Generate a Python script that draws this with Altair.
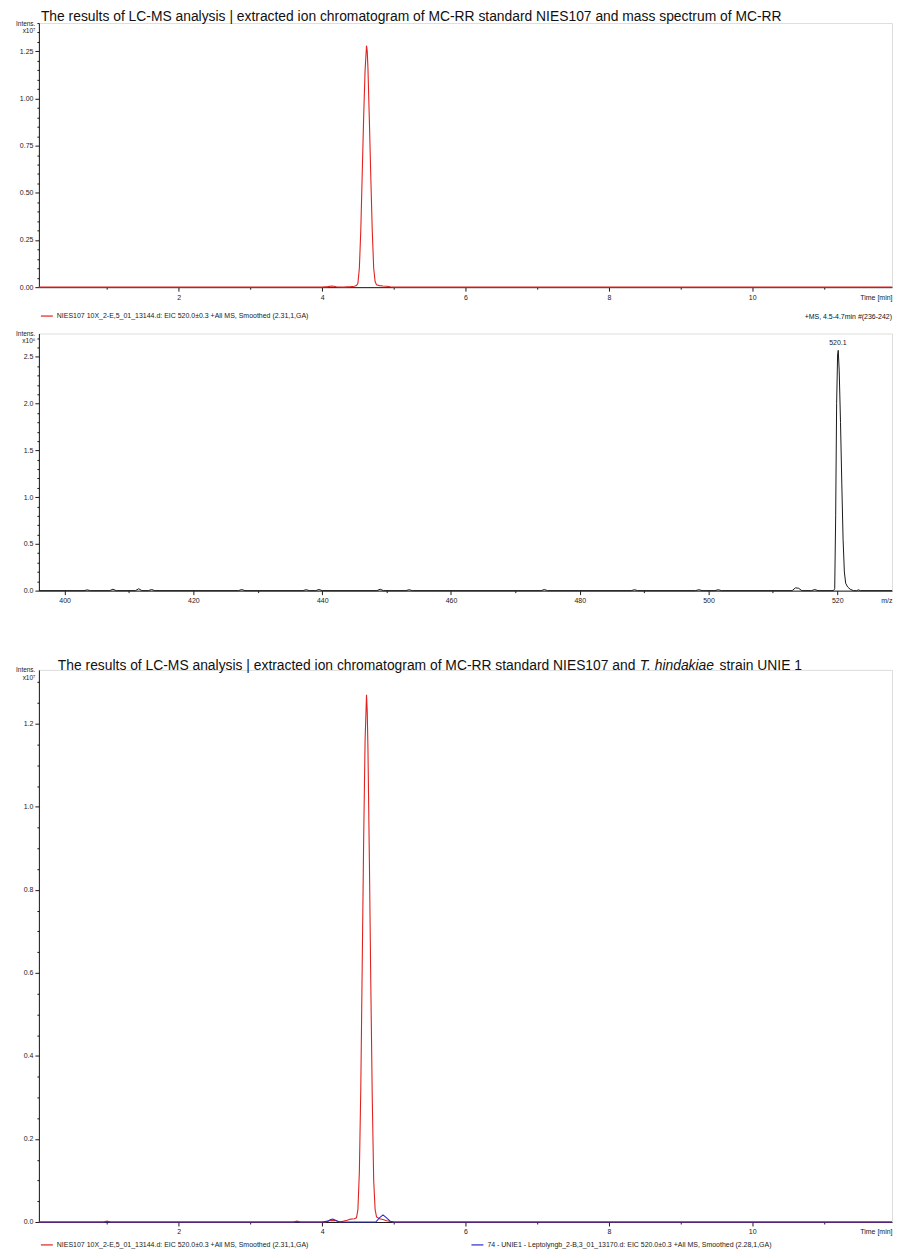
import json
import altair as alt
import pandas as pd

FONT = "Liberation Sans"
INK = "#1a1a1a"
RED = "#e0231f"
BLUE = "#2a2ad0"

TITLE_TOP = "The results of LC-MS analysis | extracted ion chromatogram of MC-RR standard NIES107 and mass spectrum of MC-RR"
TITLE_BOTTOM_A = "The results of LC-MS analysis | extracted ion chromatogram of MC-RR standard NIES107 and"
TITLE_BOTTOM_B = "T. hindakiae"
TITLE_BOTTOM_C = "strain UNIE 1"
SERIES_STD = "NIES107 10X_2-E,5_01_13144.d: EIC 520.0±0.3 +All MS, Smoothed (2.31,1,GA)"
SERIES_UNIE = "74 - UNIE1 - Leptolyngb_2-B,3_01_13170.d: EIC 520.0±0.3 +All MS, Smoothed (2.28,1,GA)"
MS_LABEL = "+MS, 4.5-4.7min #(236-242)"
PEAK_LABEL = "520.1"

# ---- panel 1: EIC of standard (intensity x1e7) ----
T1 = [0.05, 1.00, 2.00, 3.00, 4.00, 4.08, 4.14, 4.20, 4.30, 4.40, 4.45, 4.48, 4.50, 4.52,
      4.54, 4.56, 4.58, 4.60, 4.62, 4.63, 4.64, 4.66, 4.68, 4.70, 4.72, 4.74, 4.76, 4.80,
      4.85, 4.90, 4.95, 5.00, 6.00, 8.00, 10.00, 11.95]
I1 = [0, 0, 0, 0, 0, 0.003, 0.006, 0.002, 0, 0.003, 0.005, 0.008, 0.02, 0.10,
      0.30, 0.60, 0.90, 1.15, 1.28, 1.25, 1.16, 0.88, 0.58, 0.30, 0.10, 0.03, 0.012, 0.008,
      0.006, 0.005, 0.002, 0, 0, 0, 0, 0]

# ---- panel 2: mass spectrum (intensity x1e6) ----
MZ = [396, 403, 403.5, 404, 407, 407.5, 408, 411, 411.5, 412, 413, 413.5, 414, 427, 427.5,
      428, 437, 437.5, 438, 439, 439.5, 440, 448.5, 449, 449.5, 453, 453.5, 454, 474,
      474.5, 475, 488, 488.5, 489, 498, 498.5, 499, 501, 501.5, 502, 513, 513.5, 514,
      514.5, 516, 516.5, 517, 519.4, 519.6, 519.75, 519.9, 520.05, 520.15, 520.3, 520.5,
      520.7, 520.9, 521.1, 521.3, 521.6, 522.0, 522.5, 523.0, 523.3, 523.6, 528.5]
MS = [0, 0, 0.008, 0, 0, 0.015, 0, 0, 0.02, 0, 0, 0.012, 0, 0, 0.012,
      0, 0, 0.01, 0, 0, 0.012, 0, 0, 0.015, 0, 0, 0.01, 0, 0,
      0.012, 0, 0, 0.01, 0, 0, 0.01, 0, 0, 0.01, 0, 0, 0.03, 0.025,
      0, 0, 0.012, 0, 0, 0.02, 0.8, 2.0, 2.52, 2.57, 2.35, 1.8,
      1.15, 0.55, 0.2, 0.08, 0.04, 0.015, 0, 0, 0.008, 0, 0]
PEAK_MZ = [520.1]
PEAK_I = [2.57]

# ---- panel 3: EIC standard vs UNIE1 (intensity x1e7) ----
T3_STD = [0.05, 0.95, 1.00, 1.05, 3.60, 3.65, 3.70, 4.05, 4.10, 4.15, 4.20, 4.25, 4.35,
          4.40, 4.45, 4.48, 4.50, 4.52, 4.54, 4.56, 4.58, 4.60, 4.62, 4.63, 4.64, 4.66,
          4.68, 4.70, 4.72, 4.74, 4.76, 4.80, 4.85, 4.90, 5.00, 11.95]
I3_STD = [0, 0, 0.002, 0, 0, 0.002, 0, 0, 0.003, 0.004, 0.003, 0, 0.004,
          0.007, 0.008, 0.010, 0.03, 0.12, 0.32, 0.62, 0.92, 1.16, 1.27, 1.23, 1.14, 0.87,
          0.57, 0.30, 0.10, 0.03, 0.012, 0.008, 0.006, 0.003, 0, 0]
T3_UNIE = [0.05, 4.00, 4.08, 4.12, 4.15, 4.18, 4.22, 4.30, 4.75, 4.80, 4.85, 4.90, 4.95, 5.00, 11.95]
I3_UNIE = [0, 0, 0.002, 0.006, 0.007, 0.005, 0.001, 0, 0, 0.010, 0.017, 0.010, 0.002, 0, 0]

# ---- tick values ----
TIME_MAJOR = [2, 4, 6, 8, 10]
TIME_MINOR = [1, 3, 5, 7, 9, 11]
Y1_MAJOR = [0.0, 0.25, 0.5, 0.75, 1.0, 1.25]
Y1_MINOR = [0.05, 0.1, 0.15, 0.2, 0.3, 0.35, 0.4, 0.45, 0.55, 0.6, 0.65, 0.7, 0.8, 0.85,
            0.9, 0.95, 1.05, 1.1, 1.15, 1.2, 1.3, 1.35, 1.4]
MZ_MAJOR = [400, 420, 440, 460, 480, 500, 520]
MZ_MINOR = [410, 430, 450, 470, 490, 510]
Y2_MAJOR = [0.0, 0.5, 1.0, 1.5, 2.0, 2.5]
Y2_MINOR = [0.1, 0.2, 0.3, 0.4, 0.6, 0.7, 0.8, 0.9, 1.1, 1.2, 1.3, 1.4, 1.6, 1.7, 1.8,
            1.9, 2.1, 2.2, 2.3, 2.4, 2.6, 2.7]
Y3_MAJOR = [0.0, 0.2, 0.4, 0.6, 0.8, 1.0, 1.2]
Y3_MINOR = [0.05, 0.1, 0.15, 0.25, 0.3, 0.35, 0.45, 0.5, 0.55, 0.65, 0.7, 0.75, 0.85,
            0.9, 0.95, 1.05, 1.1, 1.15, 1.25, 1.3]

W = 856
H1, H2, H3 = 265, 258, 554
TFS = 13.9  # title font size


def make_axis(major, minor, fmt, title, is_y):
    test = f"indexof({json.dumps(major)}, datum.value) >= 0"
    common = dict(
        values=sorted(major + minor),
        labelExpr=f"{test} ? format(datum.value, '{fmt}') : ''",
        tickSize={"condition": {"test": test, "value": 4}, "value": 2},
        grid=False, domainColor=INK, tickColor=INK, labelColor=INK,
        labelFont=FONT, labelFontSize=7, labelPadding=2, labelOverlap=False,
        labelFlush=False, domainWidth=1, tickWidth=1,
        title=title, titleFont=FONT, titleFontWeight="normal", titleColor=INK,
    )
    if is_y:
        common.update(titleAngle=0, titleAlign="right", titleBaseline="top",
                      titleX=-4, titleY=-3, titleFontSize=6.5, titleLineHeight=7.5)
    else:
        common.update(titleAnchor="end", titleAlign="right", titleBaseline="top",
                      titleY=6, titleFontSize=7)
    return alt.Axis(**common)


def legend(y, cols_pad=10):
    return alt.Legend(orient="none", legendX=1, legendY=y, title=None, direction="horizontal",
                      symbolType="stroke", symbolSize=144, symbolStrokeWidth=1.2,
                      labelFont=FONT, labelFontSize=7, labelColor=INK, labelOffset=3,
                      labelLimit=600, padding=0, columnPadding=cols_pad)


def text_layer(txt, x, y, align="left", baseline="alphabetic", size=TFS, style="normal"):
    return alt.Chart(pd.DataFrame({"txt": [txt]})).mark_text(
        align=align, baseline=baseline, font=FONT, fontSize=size, fontStyle=style, color="#111111"
    ).encode(x=alt.value(x), y=alt.value(y), text="txt:N")


# panel 1
df1 = pd.DataFrame({"t": T1, "i": I1, "s": SERIES_STD})
line1 = alt.Chart(df1).mark_line(strokeWidth=1.1).encode(
    x=alt.X("t:Q", scale=alt.Scale(domain=[0.05, 11.95], nice=False, zero=False),
            axis=make_axis(TIME_MAJOR, TIME_MINOR, "d", "Time [min]", False)),
    y=alt.Y("i:Q", scale=alt.Scale(domain=[0, 1.40], nice=False),
            axis=make_axis(Y1_MAJOR, Y1_MINOR, ".2f", ["Intens.", "x10\u2077"], True)),
    color=alt.Color("s:N", scale=alt.Scale(domain=[SERIES_STD], range=[RED]), legend=legend(287)),
)
p1 = alt.layer(line1, text_layer(TITLE_TOP, 2, -2)).properties(width=W, height=H1)

# panel 2
df2 = pd.DataFrame({"mz": MZ, "i": MS})
xs2 = alt.Scale(domain=[396, 528.5], nice=False, zero=False)
ys2 = alt.Scale(domain=[0, 2.75], nice=False)
xa2 = make_axis(MZ_MAJOR, MZ_MINOR, "d", "m/z", False)
ya2 = make_axis(Y2_MAJOR, Y2_MINOR, ".1f", ["Intens.", "x10\u2076"], True)
line2 = alt.Chart(df2).mark_line(strokeWidth=1, color=INK).encode(
    x=alt.X("mz:Q", scale=xs2, axis=xa2),
    y=alt.Y("i:Q", scale=ys2, axis=ya2),
)
peak = alt.Chart(pd.DataFrame({"mz": PEAK_MZ, "i": PEAK_I, "lab": [PEAK_LABEL]})).mark_text(
    font=FONT, fontSize=7, dy=-7, color=INK).encode(
    x=alt.X("mz:Q", scale=xs2, axis=xa2), y=alt.Y("i:Q", scale=ys2, axis=ya2), text="lab:N")
p2 = alt.layer(line2, peak, text_layer(MS_LABEL, W, -16.5, align="right", baseline="middle", size=7)
               ).properties(width=W, height=H2)

# panel 3
df3 = pd.concat([
    pd.DataFrame({"t": T3_STD, "i": I3_STD, "s": SERIES_STD}),
    pd.DataFrame({"t": T3_UNIE, "i": I3_UNIE, "s": SERIES_UNIE}),
])
line3 = alt.Chart(df3).mark_line(strokeWidth=1.1).encode(
    x=alt.X("t:Q", scale=alt.Scale(domain=[0.05, 11.95], nice=False, zero=False),
            axis=make_axis(TIME_MAJOR, TIME_MINOR, "d", "Time [min]", False)),
    y=alt.Y("i:Q", scale=alt.Scale(domain=[0, 1.33], nice=False),
            axis=make_axis(Y3_MAJOR, Y3_MINOR, ".1f", ["Intens.", "x10\u2077"], True)),
    color=alt.Color("s:N", scale=alt.Scale(domain=[SERIES_STD, SERIES_UNIE], range=[RED, BLUE]),
                    legend=legend(570, cols_pad=160)),
    detail="s:N",
)
p3 = alt.layer(
    line3,
    text_layer(TITLE_BOTTOM_A, 19, 0),
    text_layer(TITLE_BOTTOM_B, 603, 0, style="italic"),
    text_layer(TITLE_BOTTOM_C, 683, 0),
).properties(width=W, height=H3)

top = alt.vconcat(p1, p2, spacing=-7.5).resolve_scale(color="independent").resolve_legend(color="independent")
chart = alt.vconcat(top, p3, spacing=54).resolve_scale(color="independent").resolve_legend(
    color="independent").properties(
    padding={"left": 6, "top": -1, "right": 0, "bottom": 0}
).configure_view(strokeWidth=0).configure(background="white")

chart.save("out.html", embed_options={"renderer": "svg", "actions": False})
